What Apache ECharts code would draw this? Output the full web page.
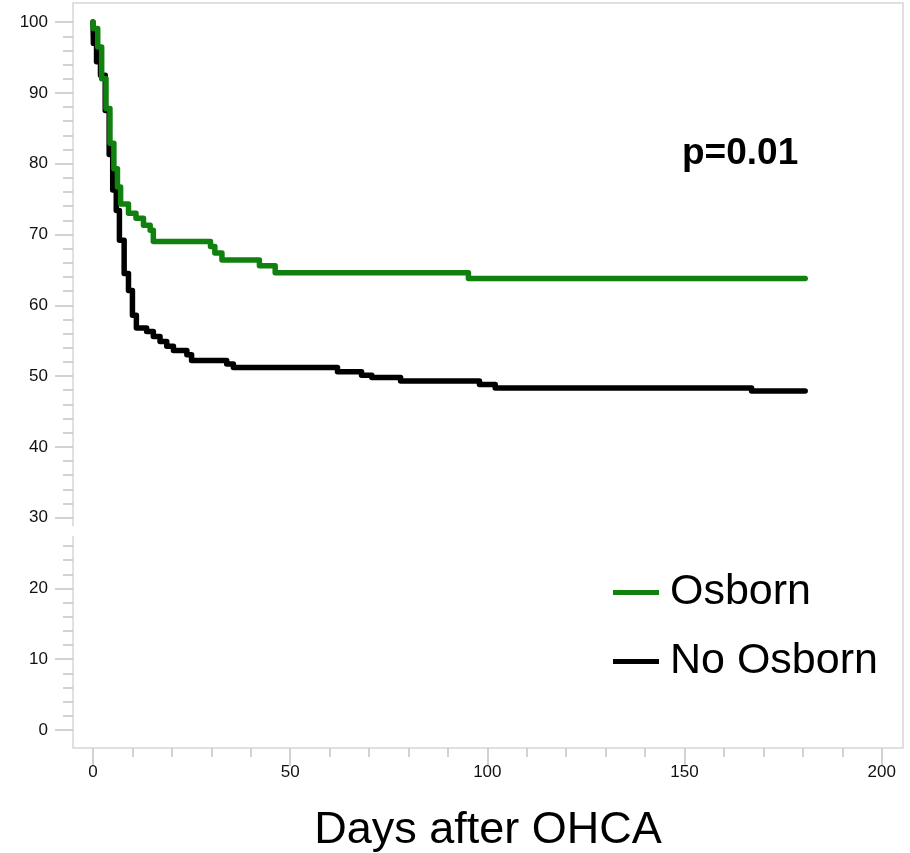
<!DOCTYPE html>
<html>
<head>
<meta charset="utf-8">
<script src="https://cdn.jsdelivr.net/npm/echarts@6/dist/echarts.min.js"></script>
<style>
  html, body { margin: 0; padding: 0; background: #fff; }
  #chart { width: 910px; height: 853px; }
</style>
</head>
<body>
<div id="chart"></div>
<script>
// Kaplan-Meier steps (day, % alive after the drop)
const osbornDays = [0, 0.1, 1.2, 2.2, 3.3, 4.3, 5.3, 6.2, 7.0, 9.0, 10.9, 12.8, 14.5, 15.3, 29.8, 30.9, 32.7, 42.2, 46.2, 95.2, 180.6];
const osbornSurv = [100, 99.1, 96.5, 92.0, 87.8, 82.9, 79.3, 76.7, 74.3, 73.0, 72.3, 71.3, 70.6, 69.0, 68.3, 67.4, 66.4, 65.6, 64.6, 63.8, 63.8];

const noOsbornDays = [0, 0.1, 0.9, 1.9, 3.1, 4.1, 5.0, 5.9, 6.7, 7.9, 9.0, 10.0, 11.0, 13.6, 15.3, 17.0, 18.7, 20.4, 23.8, 25.0, 33.9, 35.6, 62.0, 68.1, 70.7, 78.0, 98.0, 102.0, 167.0, 180.6];
const noOsbornSurv = [100, 97.0, 94.4, 92.5, 87.5, 81.3, 76.3, 73.4, 69.2, 64.5, 62.1, 58.6, 56.8, 56.3, 55.6, 54.9, 54.2, 53.6, 53.0, 52.2, 51.7, 51.2, 50.6, 50.1, 49.8, 49.3, 48.8, 48.3, 47.9, 47.9];

const xMajor = [0, 50, 100, 150, 200];
const xMinor = [10, 20, 30, 40, 60, 70, 80, 90, 110, 120, 130, 140, 160, 170, 180, 190];
const yMajor = [0, 10, 20, 30, 40, 50, 60, 70, 80, 90, 100];
const yMinor = [2, 4, 6, 8, 12, 14, 16, 18, 22, 24, 26, 32, 34, 36, 38, 42, 44, 46, 48,
  52, 54, 56, 58, 62, 64, 66, 68, 72, 74, 76, 78, 82, 84, 86, 88, 92, 94, 96, 98];
const yBreak = [27.4, 28.8];

const xRange = [-5.07, 205.4];
const yRange = [-2.54, 102.7];

const font = 'Liberation Sans, Arial, sans-serif';
const tickColor = '#c4c4c4';
const green = '#10800f';

const pairs = (xs, ys) => xs.map((d, i) => [d, ys[i]]);

var chart = echarts.init(document.getElementById('chart'));

const hiddenLine = { show: false, onZero: false };

chart.setOption({
  animation: false,
  backgroundColor: '#fff',
  title: {
    text: 'p=0.01',
    left: 682,
    top: 135,
    padding: 0,
    textStyle: { fontFamily: font, fontSize: 37, fontWeight: 'bold', color: '#000' }
  },
  legend: {
    data: ['Osborn', 'No Osborn'],
    orient: 'vertical',
    left: 613,
    top: 571,
    padding: 0,
    itemGap: 26,
    itemWidth: 46,
    itemHeight: 5,
    icon: 'rect',
    textStyle: {
      fontFamily: font, fontSize: 43, lineHeight: 43, color: '#000',
      padding: [0, 0, 0, 6]
    }
  },
  grid: {
    left: 73, right: 7, top: 3, bottom: 105,
    outerBoundsMode: 'none',
    containLabel: false,
    show: true,
    borderColor: '#d6d6d6',
    borderWidth: 1.5
  },
  xAxis: [{
    type: 'value',
    min: xRange[0],
    max: xRange[1],
    position: 'bottom',
    name: 'Days after OHCA',
    nameLocation: 'middle',
    nameGap: 60,
    nameTextStyle: { fontFamily: font, fontSize: 45, color: '#000' },
    axisLine: hiddenLine,
    splitLine: { show: false },
    axisTick: { inside: false, customValues: xMajor, length: 18, lineStyle: { color: tickColor, width: 1.5 } },
    axisLabel: { customValues: xMajor, fontFamily: font, fontSize: 17, color: '#111', margin: 16 }
  }, {
    type: 'value',
    min: xRange[0],
    max: xRange[1],
    position: 'bottom',
    axisLine: hiddenLine,
    splitLine: { show: false },
    axisLabel: { show: false },
    axisTick: { inside: false, customValues: xMinor, length: 9, lineStyle: { color: tickColor, width: 1.5 } }
  }],
  yAxis: [{
    type: 'value',
    min: yRange[0],
    max: yRange[1],
    position: 'left',
    axisLine: hiddenLine,
    splitLine: { show: false },
    axisTick: { inside: false, customValues: yMajor, length: 18, lineStyle: { color: tickColor, width: 1.5 } },
    axisLabel: { customValues: yMajor, fontFamily: font, fontSize: 17, color: '#111', margin: 25 }
  }, {
    type: 'value',
    min: yRange[0],
    max: yRange[1],
    position: 'left',
    axisLine: hiddenLine,
    splitLine: { show: false },
    axisLabel: { show: false },
    axisTick: { inside: false, customValues: yMinor, length: 10, lineStyle: { color: tickColor, width: 1.5 } }
  }],
  series: [{
    name: 'No Osborn',
    type: 'line',
    step: 'end',
    symbol: 'none',
    color: '#000',
    lineStyle: { width: 5.5, color: '#000', join: 'round', cap: 'round' },
    data: pairs(noOsbornDays, noOsbornSurv)
  }, {
    name: 'Osborn',
    type: 'line',
    step: 'end',
    symbol: 'none',
    color: green,
    lineStyle: { width: 5.5, color: green, join: 'round', cap: 'round' },
    data: pairs(osbornDays, osbornSurv)
  }]
});

// little gap in the left axis line between 27 and 29
var gx = chart.convertToPixel({ xAxisIndex: 0 }, xRange[0]);
var gTop = chart.convertToPixel({ yAxisIndex: 0 }, yBreak[1]);
var gBot = chart.convertToPixel({ yAxisIndex: 0 }, yBreak[0]);
chart.setOption({
  graphic: [{
    type: 'rect',
    z: 100,
    shape: { x: gx - 3, y: gTop, width: 6, height: gBot - gTop },
    style: { fill: '#fff' }
  }]
});
</script>
</body>
</html>
